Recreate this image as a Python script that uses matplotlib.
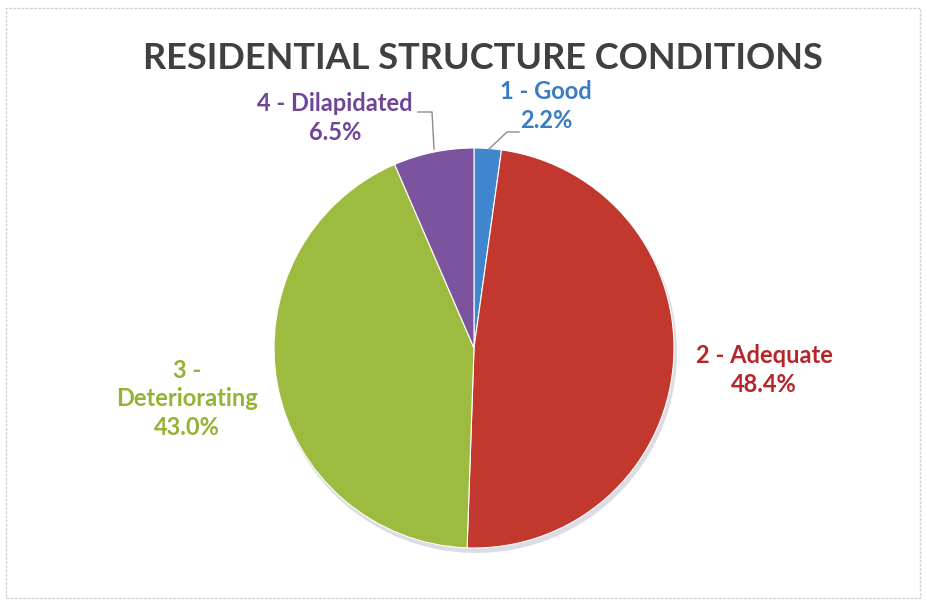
import matplotlib.pyplot as plt
from matplotlib.patches import Rectangle

categories = ['1 - Good', '2 - Adequate', '3 -\nDeteriorating', '4 - Dilapidated']
shares = [2.2, 48.4, 43.0, 6.5]
wedge_colors = ['#3f86cf', '#c2382f', '#9dbb3f', '#7b539f']
text_colors = ['#3a7cc4', '#b5262b', '#94b233', '#6f4596']

plt.rcParams['font.family'] = ['Lato', 'DejaVu Sans']

fig = plt.figure(figsize=(9.28, 6.04), dpi=100)
ax = fig.add_axes([0, 0, 1, 1])

# faint frame of the chart area
ax.add_patch(Rectangle((6, 6), 914, 590, fill=False, ec='#d0d0dc', lw=1.0, ls=(0, (2, 1))))

# soft shadow, then the pie (clockwise from 12 o'clock)
ax.pie(shares, colors=['#dcdce6'] * 4, startangle=90, counterclock=False,
       center=(476, 252), radius=201, wedgeprops=dict(lw=0))
wedges, _ = ax.pie(shares, colors=wedge_colors, startangle=90, counterclock=False,
                   center=(474, 256), radius=200,
                   wedgeprops=dict(edgecolor='white', linewidth=0.8))
ax.set_xlim(0, 928)
ax.set_ylim(0, 604)
ax.set_aspect('equal')
ax.axis('off')

ax.text(483, 546, 'RESIDENTIAL STRUCTURE CONDITIONS', ha='center', va='center',
        fontsize=26, fontweight='bold', color='#404040')

lab = dict(fontsize=17, fontweight='bold', ha='center', va='center', linespacing=1.3)
ax.text(546, 498, f'{categories[0]}\n{shares[0]:.1f}%', color=text_colors[0], **lab)
ax.text(764, 234, f'{categories[1]}\n{shares[1]:.1f}%', color=text_colors[1], **lab)
ax.text(187, 205, f'{categories[2]}\n{shares[2]:.1f}%', color=text_colors[2], **lab)
ax.text(335, 486, f'{categories[3]}\n{shares[3]:.1f}%', color=text_colors[3], **lab)

# leader lines
ax.plot([519, 507, 489], [472, 472, 455], color='#8c8c8c', lw=1)
ax.plot([418, 432, 434], [492, 492, 455], color='#8c8c8c', lw=1)

fig.savefig('out.png', dpi=100)
